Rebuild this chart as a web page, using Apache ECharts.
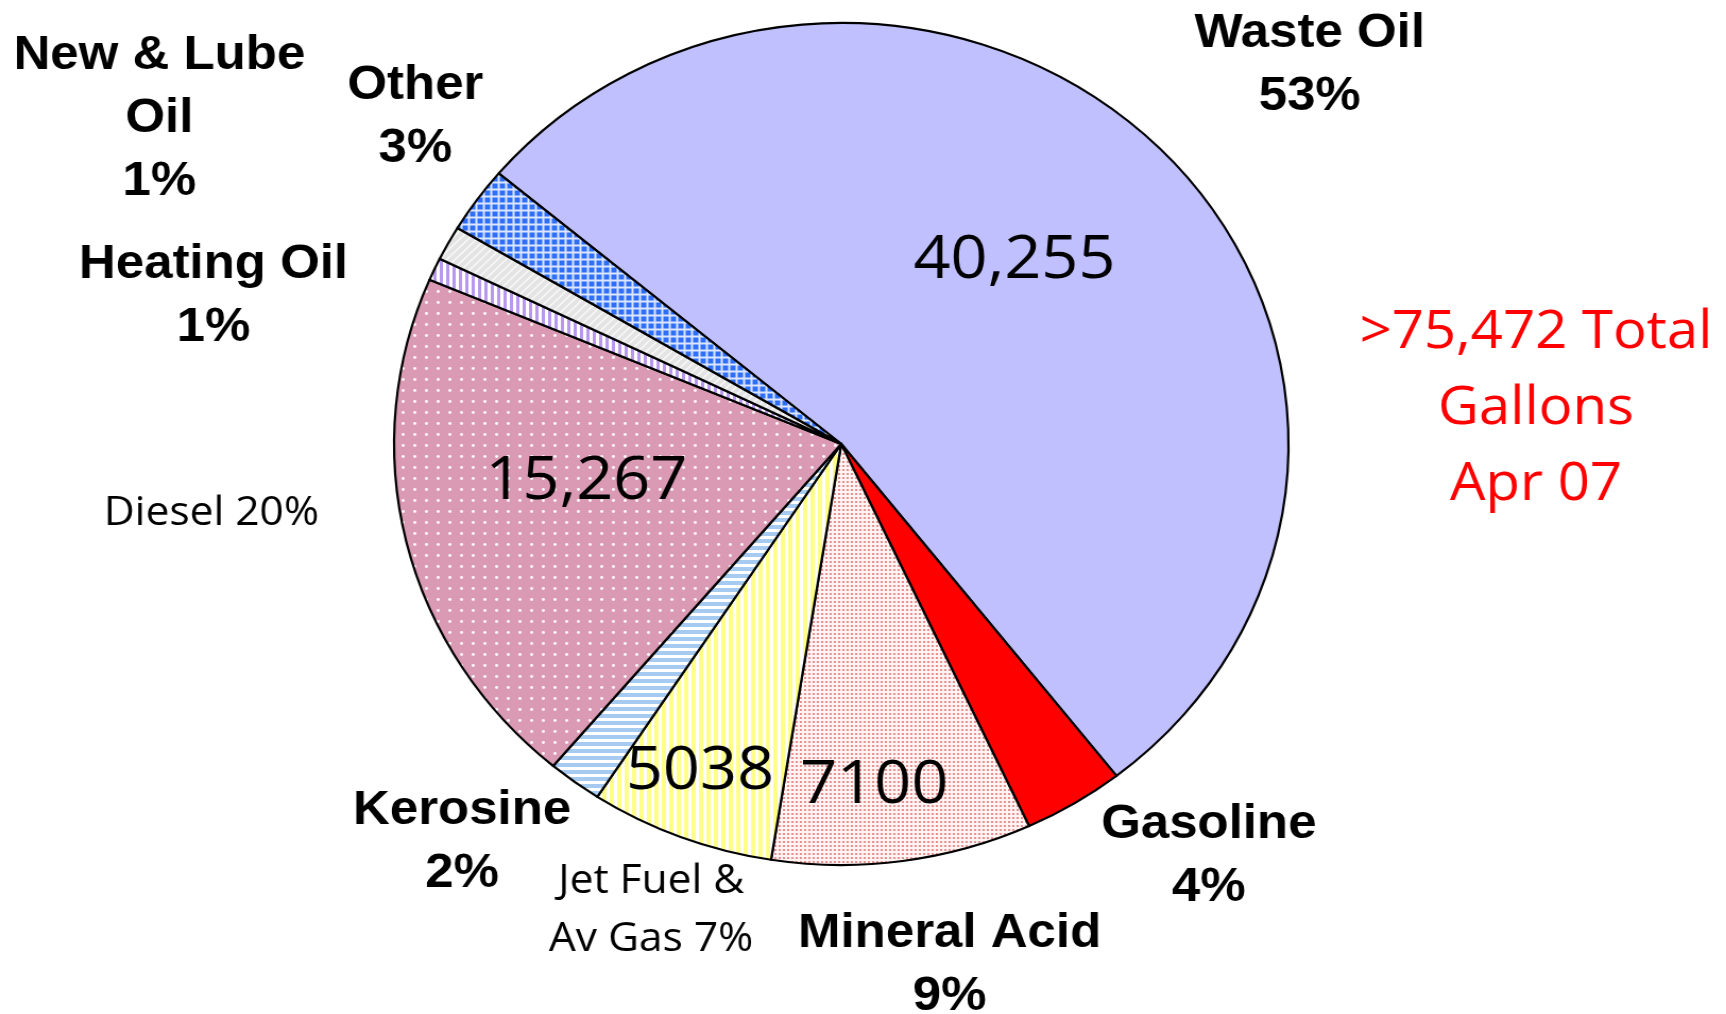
<!DOCTYPE html>
<html>
<head>
<meta charset="utf-8">
<script src="https://cdn.jsdelivr.net/npm/echarts@6/dist/echarts.min.js"></script>
<style>
  html, body { margin: 0; padding: 0; background: #fff; overflow: hidden; }
  #chart { width: 1625px; height: 1014px; transform: scaleX(1.0622); transform-origin: 0 0; }
</style>
</head>
<body>
<div id="chart"></div>
<script>
// ---- data ----
const categories = ['Waste Oil', 'Gasoline', 'Mineral Acid', 'Jet Fuel & Av Gas', 'Kerosine', 'Diesel', 'Heating Oil', 'New & Lube Oil', 'Other'];
const gallons    = [40255, 2757, 7100, 5038, 1480, 15267, 660, 1000, 1915];
const valueLabels = ['40,255', '', '7100', '5038', '', '15,267', '', '', ''];
const categoryLabelLines = [['Waste Oil'], ['Gasoline'], ['Mineral Acid'], ['Jet Fuel &', 'Av Gas'], ['Kerosine'], ['Diesel'], ['Heating Oil'], ['New & Lube', 'Oil'], ['Other']];
const totalLines = ['>75,472 Total', 'Gallons', 'Apr 07'];

// ---- patterns (styles) ----
function tile(w, h, draw) {
  const c = document.createElement('canvas');
  c.width = w; c.height = h;
  draw(c.getContext('2d'), w, h);
  return { image: c, repeat: 'repeat' };
}
const fills = [
  '#C0C0FF',
  '#FF0000',
  tile(4, 4, (g, w, h) => { g.fillStyle = '#FFF4F4'; g.fillRect(0, 0, w, h); g.fillStyle = '#E27878'; g.beginPath(); g.arc(2, 2, 1.1, 0, Math.PI * 2); g.fill(); }),
  tile(7, 7, (g, w, h) => { g.fillStyle = '#FFFFFF'; g.fillRect(0, 0, w, h); g.fillStyle = '#FFFF88'; g.fillRect(0, 0, 4, h); }),
  tile(7, 7, (g, w, h) => { g.fillStyle = '#FFFFFF'; g.fillRect(0, 0, w, h); g.fillStyle = '#A6CAF0'; g.fillRect(0, 0, w, 4); }),
  tile(11, 11, (g, w, h) => { g.fillStyle = '#DB9AB3'; g.fillRect(0, 0, w, h); g.fillStyle = '#FFFFFF'; g.beginPath(); g.arc(5.5, 5.5, 1.4, 0, Math.PI * 2); g.fill(); }),
  tile(6, 6, (g, w, h) => { g.fillStyle = '#FFFFFF'; g.fillRect(0, 0, w, h); g.fillStyle = '#B898EE'; g.fillRect(0, 0, 3, h); }),
  tile(8, 8, (g, w, h) => { g.fillStyle = '#E4E4E4'; g.fillRect(0, 0, w, h); g.strokeStyle = '#FAFAFA'; g.lineWidth = 1.4; g.beginPath(); g.moveTo(-1, 9); g.lineTo(9, -1); g.moveTo(-1, 1); g.lineTo(1, -1); g.moveTo(7, 9); g.lineTo(9, 7); g.stroke(); }),
  tile(7, 7, (g, w, h) => { g.fillStyle = '#DCE6FF'; g.fillRect(0, 0, w, h); g.fillStyle = '#2E6EF8'; g.fillRect(1.5, 1.5, 5, 5); })
];

// ---- layout (positions of text, in chart px) ----
const catLabelPos = [
  [1233, 65], [1138, 856], [894, 965], [613, 911], [435, 842], [199, 514], [201, 296], [150, 119], [391, 117]
];
const valueLabelPos = [[955, 261], null, [823, 786], [659, 772], null, [552, 482], null, null, null];
const total = gallons.reduce((a, b) => a + b, 0);

const graphics = [];
categories.forEach((name, i) => {
  const pct = Math.round(gallons[i] / total * 100) + '%';
  const lines = categoryLabelLines[i].slice();
  const plain = (i === 3 || i === 5);
  if (plain) {
    lines[lines.length - 1] = lines[lines.length - 1] + ' ' + pct;
  } else {
    lines.push(pct);
  }
  graphics.push({
    type: 'text', x: catLabelPos[i][0], y: catLabelPos[i][1], silent: true,
    style: {
      text: lines.join('\n'),
      align: 'center', verticalAlign: 'middle',
      font: plain ? '40px "Open Sans"' : 'bold 48px "Liberation Sans"',
      lineHeight: plain ? 58 : 63,
      fill: '#000'
    }
  });
  if (valueLabelPos[i] && valueLabels[i]) {
    graphics.push({
      type: 'text', x: valueLabelPos[i][0], y: valueLabelPos[i][1], silent: true, z: 10,
      style: { text: valueLabels[i], align: 'center', verticalAlign: 'middle', font: '61px "Open Sans"', fill: '#000' }
    });
  }
});
graphics.push({
  type: 'text', x: 1446, y: 409, silent: true,
  style: { text: totalLines.join('\n'), align: 'center', verticalAlign: 'middle', font: '53px "Open Sans"', lineHeight: 76, fill: '#FF0000' }
});

const chart = echarts.init(document.getElementById('chart'), null, { renderer: 'canvas' });
chart.setOption({
  animation: false,
  backgroundColor: '#ffffff',
  series: [{
    type: 'pie',
    center: [792, 444],
    radius: 421,
    startAngle: 140,
    clockwise: true,
    avoidLabelOverlap: false,
    silent: true,
    label: { show: false },
    labelLine: { show: false },
    itemStyle: { borderColor: '#000', borderWidth: 2.2 },
    emphasis: { disabled: true },
    data: categories.map((name, i) => ({ name, value: gallons[i], itemStyle: { color: fills[i] } }))
  }],
  graphic: graphics
});
</script>
</body>
</html>
